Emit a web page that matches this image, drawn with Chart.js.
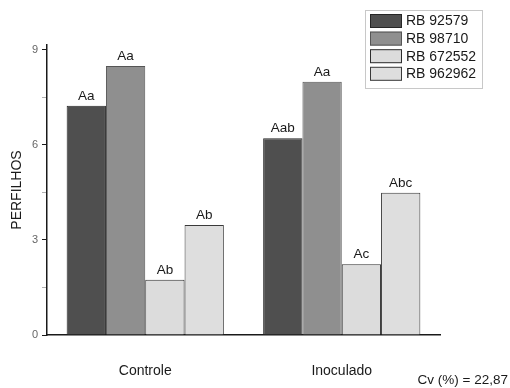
<!DOCTYPE html>
<html>
<head>
<meta charset="utf-8">
<script src="https://cdn.jsdelivr.net/npm/chart.js@4"></script>
<style>
  html, body { margin: 0; padding: 0; background: #fff; }
  #c { display: block; }
</style>
</head>
<body>
<canvas id="c" width="510" height="388"></canvas>
<script>
// Tillers per treatment for four sugarcane varieties
const categories = ['Controle', 'Inoculado'];
const seriesNames = ['RB 92579', 'RB 98710', 'RB 672552', 'RB 962962'];
const rb92579 = [7.23, 6.21];
const rb98710 = [8.49, 7.99];
const rb672552 = [1.74, 2.23];
const rb962962 = [3.47, 4.49];
const letters92579 = ['Aa', 'Aab'];
const letters98710 = ['Aa', 'Aa'];
const letters672552 = ['Ab', 'Ac'];
const letters962962 = ['Ab', 'Abc'];
const yTicks = [0, 1.5, 3, 4.5, 6, 7.5, 9];
const yTitle = 'PERFILHOS';
const cvText = 'Cv (%) = 22,87';

const FONT = '"Liberation Sans", Arial, sans-serif';
const fills = ['#4f4f4f', '#8f8f8f', '#dcdcdc', '#dedede'];
const borders = ['#262626', '#555555', '#2e2e2e', '#3a3a3a'];
const seriesValues = [rb92579, rb98710, rb672552, rb962962];
const seriesLetters = [letters92579, letters98710, letters672552, letters962962];

const datasets = seriesNames.map((name, i) => ({
  label: name,
  data: seriesValues[i],
  letters: seriesLetters[i],
  backgroundColor: fills[i],
  borderColor: borders[i],
  borderWidth: { top: 1, left: 1, right: 1, bottom: 0 },
  borderSkipped: false,
  barPercentage: 1,
  categoryPercentage: 0.8
}));

// Significance letters above each bar
const letterPlugin = {
  id: 'letters',
  afterDatasetsDraw(chart) {
    const ctx = chart.ctx;
    ctx.save();
    ctx.font = '13.5px ' + FONT;
    ctx.fillStyle = '#1a1a1a';
    ctx.textAlign = 'center';
    ctx.textBaseline = 'bottom';
    chart.data.datasets.forEach((ds, di) => {
      chart.getDatasetMeta(di).data.forEach((bar, j) => {
        ctx.fillText(ds.letters[j], bar.x, bar.y - 3);
      });
    });
    ctx.restore();
  }
};

// Boxed legend in the upper right, plus the coefficient of variation note
const legendBoxPlugin = {
  id: 'legendBox',
  afterDraw(chart) {
    const ctx = chart.ctx;
    ctx.save();
    const bx = 365, by = 10, bw = 117, bh = 78;
    ctx.strokeStyle = '#c8c8c8';
    ctx.lineWidth = 1;
    ctx.strokeRect(bx + 0.5, by + 0.5, bw, bh);
    ctx.font = '14px ' + FONT;
    ctx.textBaseline = 'middle';
    ctx.textAlign = 'left';
    chart.data.datasets.forEach((ds, i) => {
      const y = 14 + i * 17.6;
      ctx.fillStyle = ds.backgroundColor;
      ctx.fillRect(370, y, 32, 14);
      ctx.strokeStyle = ds.borderColor;
      ctx.strokeRect(370.5, y + 0.5, 31, 13);
      ctx.fillStyle = '#1a1a1a';
      ctx.fillText(ds.label, 406, y + 7.5);
    });
    ctx.font = '13.5px ' + FONT;
    ctx.textAlign = 'right';
    ctx.fillText(cvText, 508, 380);
    ctx.restore();
  }
};

new Chart(document.getElementById('c'), {
  type: 'bar',
  data: { labels: categories, datasets },
  options: {
    responsive: false,
    animation: false,
    devicePixelRatio: 1,
    layout: { padding: { top: 45, right: 70, bottom: 0, left: 0 } },
    plugins: {
      legend: { display: false },
      tooltip: { enabled: false }
    },
    scales: {
      x: {
        type: 'category',
        offset: true,
        grid: { display: false },
        border: { display: true, color: '#1a1a1a', width: 1.5 },
        ticks: { color: '#1a1a1a', font: { family: FONT, size: 14 }, padding: 20, maxRotation: 0 },
        afterFit(s) { s.height = 53; }
      },
      y: {
        min: 0,
        max: 9.15,
        afterBuildTicks(s) { s.ticks = yTicks.map(v => ({ value: v })); },
        ticks: {
          color: '#666',
          font: { family: FONT, size: 11 },
          padding: 4,
          callback: v => (v % 3 === 0 ? String(v) : '')
        },
        grid: {
          drawOnChartArea: false,
          drawTicks: true,
          tickLength: 5,
          color: ctx => (ctx.tick && ctx.tick.value % 3 === 0 ? '#1a1a1a' : '#b0b0b0')
        },
        border: { display: true, color: '#1a1a1a', width: 1.5 },
        title: {
          display: true,
          text: yTitle,
          color: '#1a1a1a',
          font: { family: FONT, size: 14 },
          padding: { top: 9, bottom: 0 }
        },
        afterFit(s) { s.width = 47; }
      }
    }
  },
  plugins: [letterPlugin, legendBoxPlugin]
});
</script>
</body>
</html>
